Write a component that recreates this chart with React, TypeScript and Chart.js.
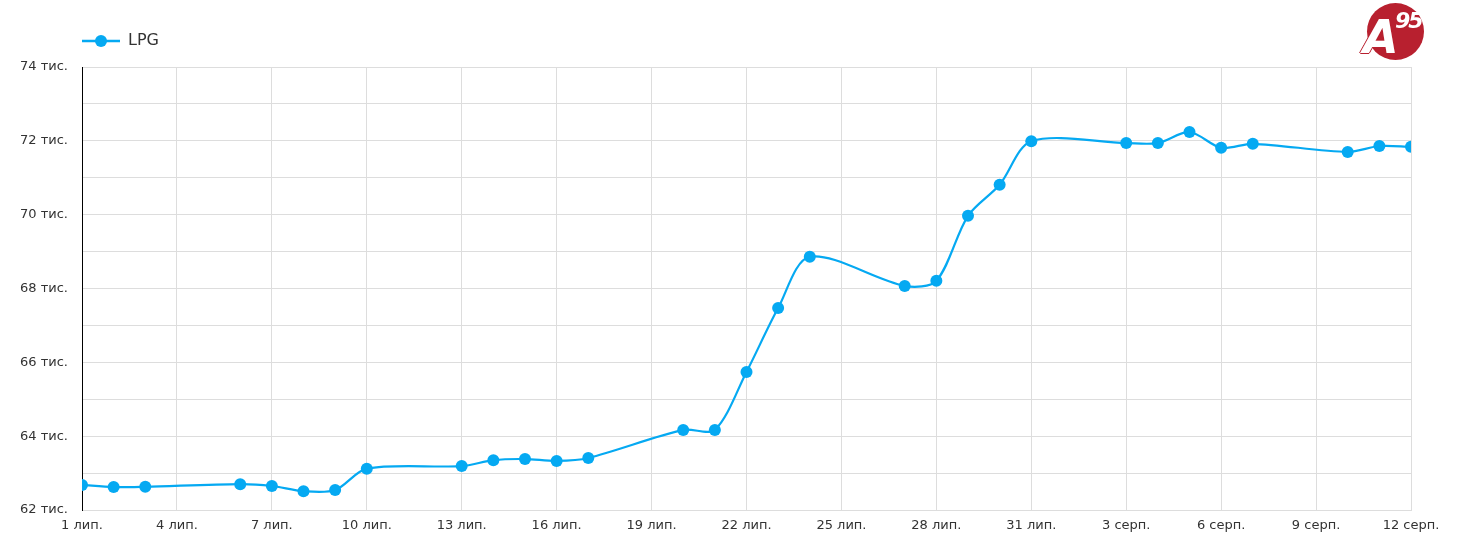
import React, { useEffect, useRef } from "react";
import { Chart, registerables } from "chart.js";

Chart.register(...registerables);

// Day offset from 1 July (0 = 1 лип.)
const dayIndex = [0, 1, 2, 5, 6, 7, 8, 9, 12, 13, 14, 15, 16, 19, 20, 21, 22, 23, 26, 27, 28, 29, 30, 33, 34, 35, 36, 37, 40, 41, 42];
const lpgPrices = [
  62680, 62620, 62630, 62700, 62650, 62510, 62540, 63120, 63190, 63350, 63380, 63330, 63410,
  64170, 64170, 65740, 67470, 68860, 68070, 68210, 69970, 70810, 71990,
  71940, 71940, 72240, 71810, 71920, 71700, 71860, 71840,
];
const xTickLabels = [
  "1 лип.", "4 лип.", "7 лип.", "10 лип.", "13 лип.", "16 лип.", "19 лип.", "22 лип.",
  "25 лип.", "28 лип.", "31 лип.", "3 серп.", "6 серп.", "9 серп.", "12 серп.",
];
const seriesName = "LPG";

const FONT = "'DejaVu Sans', sans-serif";
const BLUE = "#05A9F2";
const RED = "#B8202F";

function makeLegendIcon(): HTMLCanvasElement {
  const c = document.createElement("canvas");
  c.width = 38;
  c.height = 14;
  const ctx = c.getContext("2d")!;
  ctx.strokeStyle = BLUE;
  ctx.lineWidth = 2.5;
  ctx.beginPath();
  ctx.moveTo(0, 7);
  ctx.lineTo(38, 7);
  ctx.stroke();
  ctx.fillStyle = BLUE;
  ctx.beginPath();
  ctx.arc(19, 7, 6, 0, Math.PI * 2);
  ctx.fill();
  return c;
}

export default function App() {
  const ref = useRef<HTMLCanvasElement>(null);

  useEffect(() => {
    if (!ref.current) return;
    const icon = makeLegendIcon();
    const points = dayIndex.map((d, i) => ({ x: d, y: lpgPrices[i] }));
    const chart = new Chart(ref.current, {
      type: "line",
      data: {
        datasets: [
          {
            label: seriesName,
            data: points,
            borderColor: BLUE,
            backgroundColor: BLUE,
            borderWidth: 2.2,
            pointRadius: 6,
            pointHoverRadius: 6,
            pointBorderWidth: 0,
            pointBackgroundColor: BLUE,
            tension: 0.3,
            fill: false,
          },
        ],
      },
      options: {
        animation: false,
        responsive: true,
        maintainAspectRatio: false,
        layout: { padding: { top: 25, right: 41, left: 0, bottom: 0 } },
        plugins: {
          tooltip: { enabled: false },
          legend: {
            display: true,
            position: "top",
            align: "start",
            fullSize: false,
            labels: {
              usePointStyle: true,
              pointStyleWidth: 38,
              padding: 0,
              color: "#333",
              font: { family: FONT, size: 16 },
              generateLabels: (ch: any) => {
                const ds = ch.data.datasets[0];
                return [
                  {
                    text: ds.label,
                    fillStyle: BLUE,
                    strokeStyle: BLUE,
                    lineWidth: 0,
                    pointStyle: icon,
                    datasetIndex: 0,
                    hidden: false,
                    fontColor: "#333",
                  },
                ];
              },
            },
          },
        },
        scales: {
          x: {
            type: "linear",
            min: 0,
            max: 42,
            afterBuildTicks: (scale: any) => {
              scale.ticks = xTickLabels.map((_, i) => ({ value: i * 3 }));
            },
            afterFit: (scale: any) => {
              scale.height = 25;
            },
            ticks: {
              autoSkip: false,
              maxRotation: 0,
              padding: 8,
              color: "#333",
              font: { family: FONT, size: 13 },
              callback: (v: any) => xTickLabels[Math.round(Number(v) / 3)] ?? "",
            },
            grid: { color: "#dddddd", lineWidth: 1, drawTicks: false },
            border: { color: "#dddddd", width: 1 },
          },
          y: {
            type: "linear",
            min: 62000,
            max: 74000,
            afterBuildTicks: (scale: any) => {
              const t = [];
              for (let v = 62000; v <= 74000; v += 1000) t.push({ value: v });
              scale.ticks = t;
            },
            afterFit: (scale: any) => {
              scale.width = 74;
            },
            ticks: {
              autoSkip: false,
              padding: 14,
              color: "#333",
              font: { family: FONT, size: 13 },
              callback: (v: any) => (Number(v) % 2000 === 0 ? `${Number(v) / 1000} тис.` : ""),
            },
            grid: { color: "#dddddd", lineWidth: 1, drawTicks: false },
            border: { color: "#000000", width: 1 },
          },
        },
      },
      plugins: [
        {
          id: "legendMargin",
          beforeInit(ch: any) {
            const lg = ch.legend;
            if (lg) {
              const fit = lg.fit;
              lg.fit = function () {
                fit.call(this);
                this.height += 8;
              };
            }
          },
        },
      ],
    });
    return () => chart.destroy();
  }, []);

  return (
    <div style={{ position: "relative", width: 1444, height: 527 }}>
      <canvas ref={ref} />
      <div
        style={{
          position: "fixed",
          left: 1367,
          top: 3,
          width: 57,
          height: 57,
          borderRadius: "50%",
          background: RED,
          zIndex: 2,
        }}
      >
        <span
          style={{
            position: "absolute",
            left: -4,
            top: 11,
            fontFamily: "'DejaVu Sans', sans-serif",
            fontWeight: 900,
            fontStyle: "italic",
            fontSize: 46,
            lineHeight: "46px",
            color: "#fff",
            textShadow: `-1px 0 ${RED}, 1px 0 ${RED}, 0 1px ${RED}, 0 -1px ${RED}`,
          }}
        >
          A
        </span>
        <span
          style={{
            position: "absolute",
            left: 28,
            top: 7,
            fontFamily: "'DejaVu Sans', sans-serif",
            fontWeight: 700,
            fontStyle: "italic",
            fontSize: 22,
            lineHeight: "22px",
            color: "#fff",
            letterSpacing: -2,
          }}
        >
          95
        </span>
      </div>
    </div>
  );
}
